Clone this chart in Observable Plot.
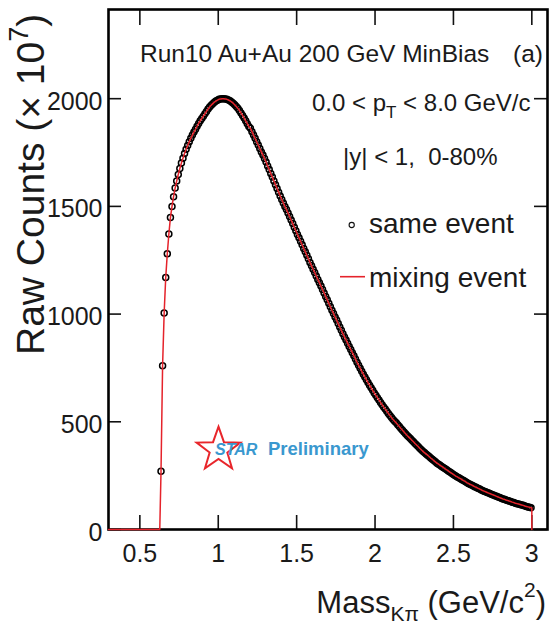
<!DOCTYPE html>
<html><head><meta charset="utf-8">
<script src="https://cdn.jsdelivr.net/npm/d3@7"></script>
<script src="https://cdn.jsdelivr.net/npm/@observablehq/plot@0.6"></script>
<style>html,body{margin:0;padding:0;background:#fff}svg{display:block}</style>
</head><body><div id="chart"></div>
<script>
// ---- data ----
const binStart = 0.635;   // centre of first filled bin (GeV/c^2)
const binWidth = 0.01;
// same-event raw counts (x 10^7) per bin, 0.635 ... 2.995
const sameEvent = [
  270, 760, 1005, 1170, 1280, 1372, 1448, 1500, 1545, 1585,
  1618, 1648, 1676, 1701, 1724, 1745, 1765, 1783, 1800, 1816,
  1831, 1845, 1858, 1872, 1885, 1897, 1908, 1919, 1930,
  1941, 1952, 1961, 1970, 1977, 1984, 1989, 1993, 1997, 1999,
  2000, 2000, 1999, 1997, 1994, 1990, 1985, 1979, 1972, 1964,
  1955, 1945,
  1934, 1922, 1910, 1897, 1884, 1871,
  1863, 1847, 1831, 1816, 1800, 1785, 1769, 1753, 1738, 1722,
  1706, 1688, 1671, 1653, 1636, 1618, 1601, 1583, 1566, 1548,
  1532, 1516, 1500, 1485, 1469, 1453, 1437, 1420, 1403, 1387,
  1370, 1354, 1338, 1322, 1305, 1289, 1273, 1257, 1240, 1224,
  1208, 1193, 1177, 1161, 1146, 1130, 1114, 1098, 1082, 1066,
  1050, 1034, 1018, 1003, 987, 972, 956, 940, 925, 909,
  894, 880, 865, 850, 836, 821, 807, 792, 777, 763,
  749, 735, 721, 708, 695, 682, 670, 658, 646, 634,
  623, 612, 601, 590, 579, 569, 559, 549, 539, 529,
  520, 511, 503, 495, 486, 478, 469, 461, 453, 444,
  436, 429, 422, 414, 407, 399, 392, 385, 377, 370,
  363, 357, 351, 345, 339, 332, 326, 320, 314, 308,
  303, 298, 293, 288, 283, 278, 273, 268, 263, 258,
  253, 248, 244, 240, 236, 231, 227, 223, 218, 214,
  210, 207, 203, 199, 196, 192, 189, 185, 181, 178,
  175, 172, 169, 166, 163, 160, 157, 154, 151, 148,
  145, 142, 140, 137, 135, 132, 130, 127, 125, 122,
  120, 118, 116, 114, 112, 109, 107, 105, 103, 101
];
// normalized mixed-event counts coincide with same-event within line width
const mixingEvent = sameEvent;
const mixingLowEdge = 0.30, mixingThreshold = 0.627, mixingHighEdge = 3.0;

const xTicks = [0.5, 1, 1.5, 2, 2.5, 3];
const xTickLabels = ["0.5", "1", "1.5", "2", "2.5", "3"];
const yTicks = [0, 500, 1000, 1500, 2000];
const yTickLabels = ["0", "500", "1000", "1500", "2000"];
const xDomain = [0.3, 3.1];
const yDomain = [0, 2414];

// ---- build ----
const FONT = "'Liberation Sans', Arial, Helvetica, sans-serif";
const W = 550, H = 628;
const mL = 108, mR = 3, mT = 9, mB = 99;
const innerW = W - mL - mR, innerH = H - mT - mB;
const dxPerPx = (xDomain[1] - xDomain[0]) / innerW;
const dyPerPx = (yDomain[1] - yDomain[0]) / innerH;

const samePts = sameEvent.map((c, i) => ({m: binStart + i * binWidth, c}));
const mixPts = [
  {m: mixingLowEdge, c: 0},
  {m: mixingThreshold, c: 0},
  ...mixingEvent.map((c, i) => ({m: binStart + i * binWidth, c})),
  {m: mixingHighEdge, c: mixingEvent[mixingEvent.length - 1]},
  {m: mixingHighEdge, c: 0}
];

const red = "#e5232b";

const plot = Plot.plot({
  width: W, height: H,
  marginLeft: mL, marginRight: mR, marginTop: mT, marginBottom: mB,
  style: {fontFamily: FONT, fontSize: "25px", color: "#1a1a1a", background: "#fff"},
  x: {domain: xDomain, axis: null},
  y: {domain: yDomain, axis: null},
  marks: [
    Plot.axisX(xTicks, {anchor: "bottom", tickSize: 0, tickPadding: 15, tickFormat: (d, i) => xTickLabels[i], fontSize: 25, label: null}),
    Plot.axisY(yTicks, {anchor: "left", tickSize: 0, tickPadding: 6, tickFormat: (d, i) => yTickLabels[i], fontSize: 25, dy: 3, label: null}),
    // inward ticks
    Plot.ruleX(xTicks, {x: d => d, y1: yDomain[0], y2: yDomain[0] + 14 * dyPerPx, stroke: "#111", strokeWidth: 1.6}),
    Plot.ruleX(xTicks, {x: d => d, y1: yDomain[1], y2: yDomain[1] - 16 * dyPerPx, stroke: "#111", strokeWidth: 1.6}),
    Plot.ruleY(yTicks, {y: d => d, x1: xDomain[0], x2: xDomain[0] + 13 * dxPerPx, stroke: "#111", strokeWidth: 1.6}),
    Plot.ruleY(yTicks, {y: d => d, x1: xDomain[1], x2: xDomain[1] - 13 * dxPerPx, stroke: "#111", strokeWidth: 1.6}),
    Plot.frame({stroke: "#000", strokeWidth: 2.6}),
    Plot.dot(samePts, {x: "m", y: "c", r: 3, stroke: "#000", strokeWidth: 1.5, fill: "none"}),
    Plot.line(mixPts, {x: "m", y: "c", stroke: red, strokeWidth: 1.5, curve: "linear"})
  ]
});
document.getElementById("chart").appendChild(plot);

// ---- annotations ----
const svg = d3.select(plot);
const g = svg.append("g").attr("font-family", FONT).attr("fill", "#1a1a1a").attr("text-anchor", "start");

// y title
const yt = g.append("text").attr("transform", "translate(43.5,355) rotate(-90)")
  .attr("font-size", 39).attr("text-anchor", "start");
yt.append("tspan").text("Raw Counts (\u00D7 10");
yt.append("tspan").attr("font-size", 27).attr("dy", -16).text("7");
yt.append("tspan").attr("dy", 16).text(")");

// x title
const xt = g.append("text").attr("x", 546).attr("y", 613).attr("font-size", 31).attr("text-anchor", "end");
xt.append("tspan").text("Mass");
xt.append("tspan").attr("font-size", 21).attr("dy", 8).text("K\u03C0");
xt.append("tspan").attr("dy", -8).text(" (GeV/c");
xt.append("tspan").attr("font-size", 21).attr("dy", -16).text("2");
xt.append("tspan").attr("dy", 16).text(")");

// header texts
g.append("text").attr("x", 140).attr("y", 62).attr("font-size", 24.5).text("Run10 Au+Au 200 GeV MinBias");
g.append("text").attr("x", 513).attr("y", 62).attr("font-size", 24.5).text("(a)");
const pt = g.append("text").attr("x", 312).attr("y", 111).attr("font-size", 24);
pt.append("tspan").text("0.0 < p");
pt.append("tspan").attr("font-size", 17).attr("dy", 7).text("T");
pt.append("tspan").attr("dy", -7).text(" < 8.0 GeV/c");
g.append("text").attr("x", 343).attr("y", 165).attr("font-size", 24)
  .style("white-space", "pre").text("|y| < 1,  0-80%");

// legend
g.append("circle").attr("cx", 351.7).attr("cy", 225).attr("r", 2.6).attr("fill", "none").attr("stroke", "#111").attr("stroke-width", 1.1);
g.append("text").attr("x", 369).attr("y", 233).attr("font-size", 28).text("same event");
g.append("line").attr("x1", 340).attr("x2", 365).attr("y1", 276.7).attr("y2", 276.7).attr("stroke", red).attr("stroke-width", 1.6);
g.append("text").attr("x", 369).attr("y", 286.5).attr("font-size", 28).text("mixing event");

// STAR Preliminary logo
const cx = 218.5, cy = 449.7, Ro = 23, Ri = 9.3;
const starPts = d3.range(10).map(k => {
  const a = -Math.PI / 2 + k * Math.PI / 5, r = k % 2 ? Ri : Ro;
  return [cx + r * Math.cos(a), cy + r * Math.sin(a)];
});
g.append("path").attr("d", "M" + starPts.join("L") + "Z").attr("fill", "none").attr("stroke", "#e8262b").attr("stroke-width", 2);
g.append("text").attr("x", 215).attr("y", 454.5).attr("font-size", 16).attr("font-weight", "bold").attr("font-style", "italic").attr("fill", "#3a98cf").text("STAR");
g.append("text").attr("x", 268).attr("y", 454.5).attr("font-size", 18.5).attr("font-weight", "bold").attr("fill", "#3a98cf").text("Preliminary");
</script>
</body></html>
